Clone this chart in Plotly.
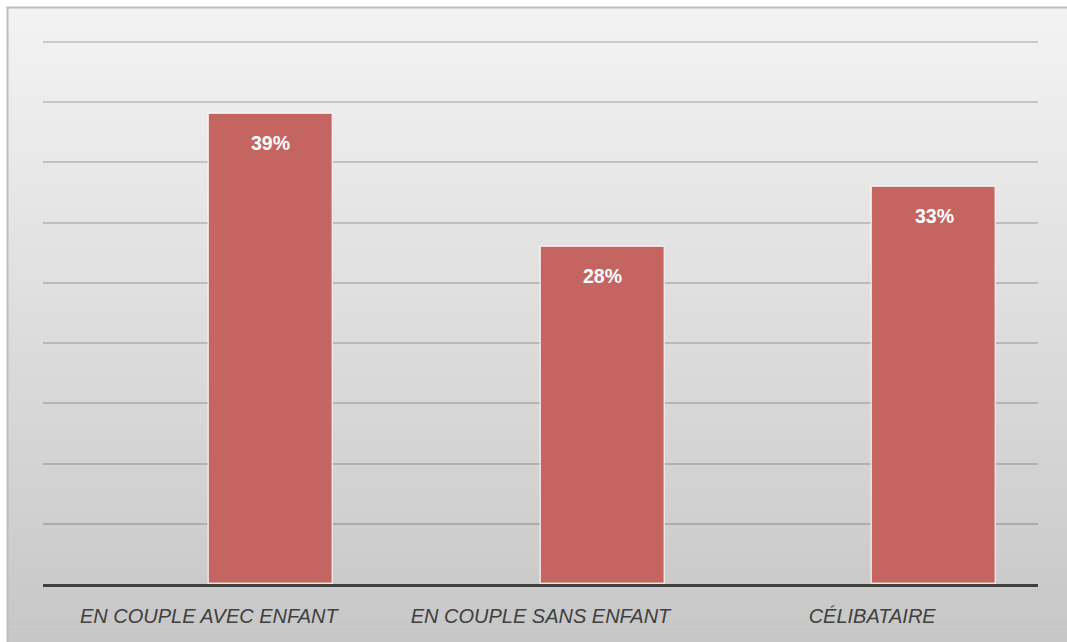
import plotly.graph_objects as go

categories = ["EN COUPLE AVEC ENFANT", "EN COUPLE SANS ENFANT", "CÉLIBATAIRE"]
values = [39, 28, 33]
labels = ["39%", "28%", "33%"]

W, H = 1067, 642
ML, MR, MT, MB = 43, 29, 39, 58
PW, PH = W - ML - MR, H - MT - MB
YMAX = 45.25

def px_x(p):
    return (p - ML) / PW

def px_y(p):
    return (H - MB - p) / PH

BAR_W = 0.374

fig = go.Figure()
fig.add_trace(go.Bar(
    x=categories, y=values,
    offset=0, width=BAR_W,
    marker=dict(color="#C46561", line=dict(color="rgba(255,255,255,0.7)", width=1.5)),
    hoverinfo="skip",
))

shapes = []
y0, y1 = 7.5, H
n = 80
top = (243, 243, 243)
bot = (199, 199, 199)
for i in range(n):
    t = i / (n - 1)
    c = tuple(int(round(top[k] + (bot[k] - top[k]) * t)) for k in range(3))
    a = y0 + (y1 - y0) * i / n
    b = y0 + (y1 - y0) * (i + 1) / n + 0.6
    shapes.append(dict(type="rect", xref="paper", yref="paper", layer="below",
                       x0=px_x(7.5), x1=px_x(W + 5), y0=px_y(b), y1=px_y(a),
                       fillcolor="rgb(%d,%d,%d)" % c, line=dict(width=0)))
shapes.append(dict(type="rect", xref="paper", yref="paper", layer="below",
                   x0=px_x(7.5), x1=px_x(W + 5), y0=px_y(H + 5), y1=px_y(7.5),
                   fillcolor="rgba(0,0,0,0)", line=dict(color="#BDBDBD", width=2)))

annotations = []
for i, (v, lab) in enumerate(zip(values, labels)):
    annotations.append(dict(x=i + BAR_W / 2, y=v, xref="x", yref="y", text=lab,
                            showarrow=False, yanchor="middle", yshift=-29,
                            font=dict(family="Liberation Sans, Arial",
                                      size=19.5, color="white", weight="bold")))

fig.update_layout(
    width=W, height=H,
    margin=dict(l=ML, r=MR, t=MT, b=MB, pad=0),
    paper_bgcolor="white",
    plot_bgcolor="rgba(0,0,0,0)",
    showlegend=False,
    shapes=shapes,
    annotations=annotations,
    bargap=0,
    xaxis=dict(
        showgrid=False, showline=True, linecolor="#404040", linewidth=3,
        ticks="outside", ticklen=12, tickcolor="rgba(0,0,0,0)",
        tickfont=dict(family="Liberation Sans, Arial", size=20, color="#404040", style="italic"),
    ),
    yaxis=dict(
        range=[0, YMAX], dtick=5, showticklabels=False, showgrid=True,
        gridcolor="rgba(0,0,0,0.16)", gridwidth=1.5, zeroline=False,
    ),
)

fig.write_html("out.html", config={"displayModeBar": False},
               post_script="document.body.style.margin='0';document.body.style.overflow='hidden';")
